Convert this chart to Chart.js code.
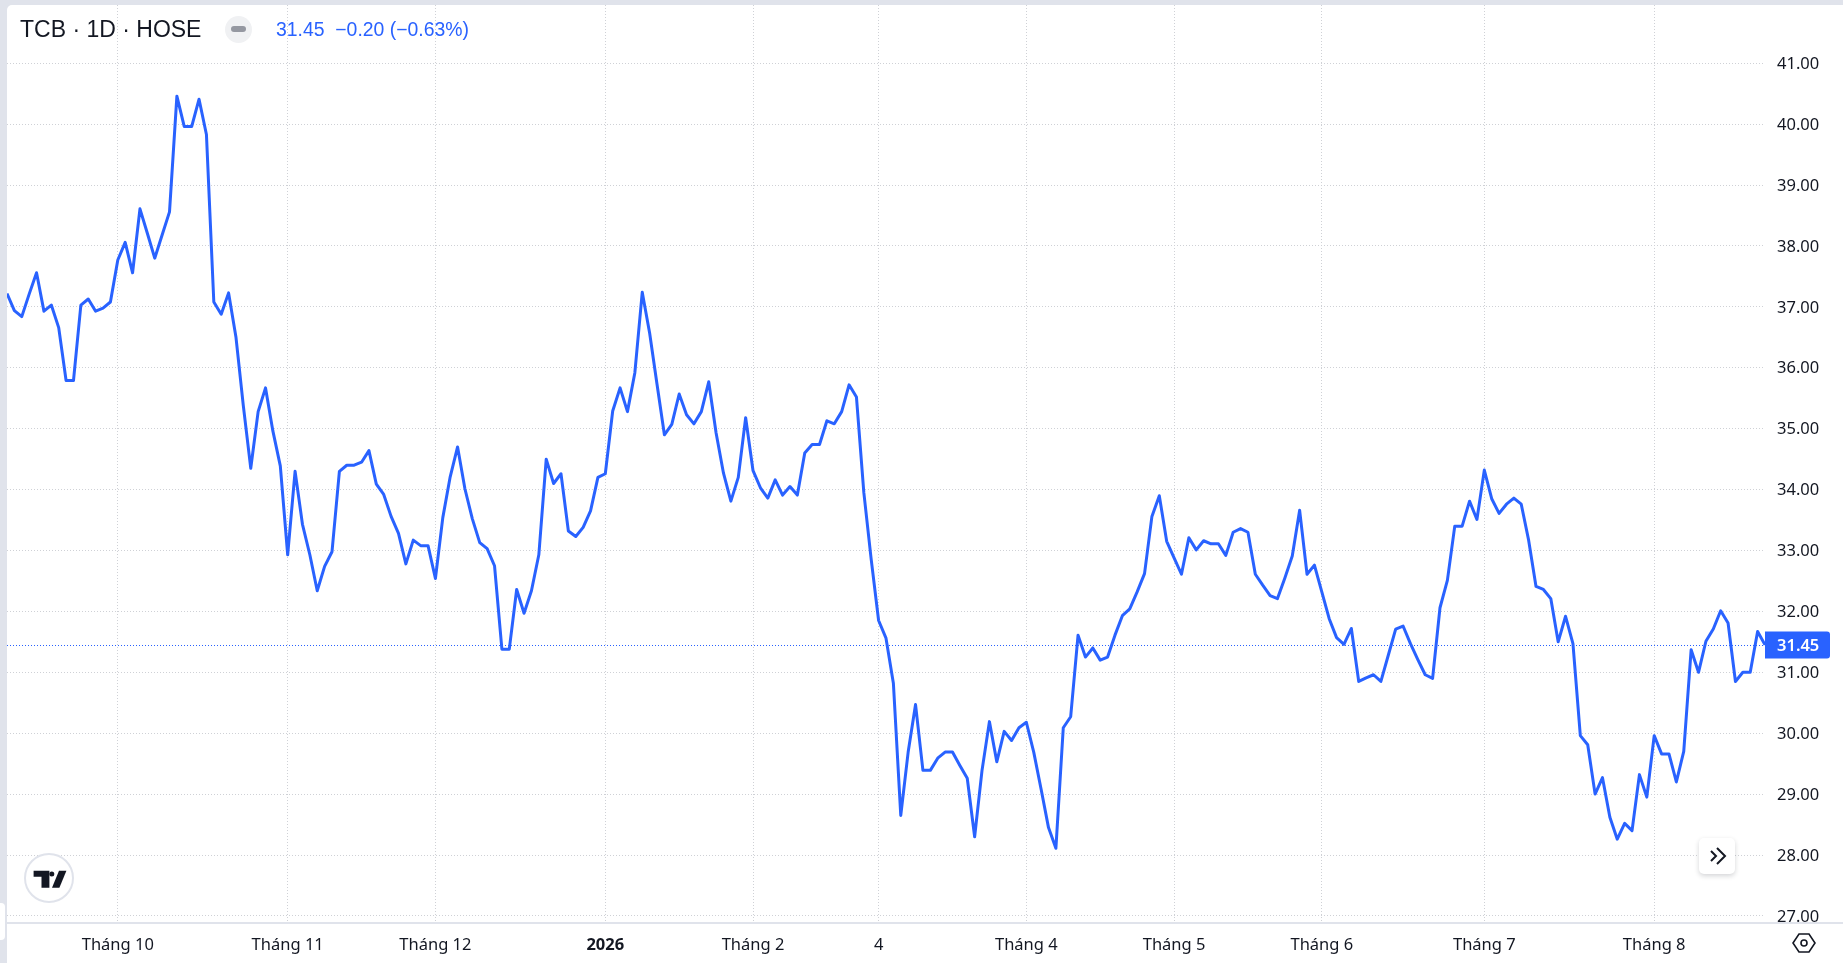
<!DOCTYPE html>
<html lang="vi">
<head>
<meta charset="utf-8">
<title>TCB · 1D · HOSE</title>
<script src="https://cdn.jsdelivr.net/npm/chart.js@4"></script>
<style>
  html, body { margin: 0; height: 100%; background: #e0e3eb; overflow: hidden; }
  #panel { position: absolute; left: 7px; top: 5px; right: 0; bottom: 0; background: #fff; border-top-left-radius: 5px; }
  #wrap { position: absolute; left: 0; top: 0; width: 1843px; height: 963px; }
  #legend { position: absolute; left: 20px; top: 15px; height: 28px; line-height: 28px; white-space: nowrap; font-family: "Liberation Sans", Arial, sans-serif; }
  #title { position: absolute; left: 0; top: 0; font-size: 23px; color: #131722; }
  #values { position: absolute; left: 256px; top: 0; font-size: 19.4px; color: #2962ff; }
  #pill { position: absolute; left: 225px; top: 16px; width: 27px; height: 27px; border-radius: 50%; background: #f0f1f3; }
  #pill i { position: absolute; left: 6px; top: 10px; width: 15px; height: 6px; border-radius: 3px; background: #9598a1; }
  #logo { position: absolute; left: 24px; top: 853px; width: 50px; height: 50px; box-sizing: border-box; border: 2px solid #e0e3eb; border-radius: 50%; background: #fff; }
  #scroll { position: absolute; left: 1699px; top: 838px; width: 36px; height: 36px; border-radius: 5px; background: #fff; box-shadow: 0 2px 5px rgba(19,23,34,.18); }
  #gear { position: absolute; left: 1792px; top: 931px; }
  #handle { position: absolute; left: 0; top: 903px; width: 5px; height: 37px; background: #fff; border-radius: 0 4px 4px 0; }
</style>
</head>
<body>
<div id="panel"></div>
<div id="handle"></div>
<div id="wrap"><canvas id="chart" width="1843" height="963"></canvas></div>
<div id="legend">
  <span id="title">TCB · 1D · HOSE</span>
  <span id="values">31.45&nbsp; −0.20 (−0.63%)</span>
</div>
<div id="pill"><i></i></div>
<div id="logo">
  <svg width="46" height="46" viewBox="0 0 46 46">
    <path fill="#131722" d="M7.6 15.7h15.8v17h-7.9v-11H7.6z"/>
    <circle fill="#131722" cx="25.8" cy="19" r="2.5"/>
    <path fill="#131722" d="M33 15.7h7.4l-7 17H26z"/>
  </svg>
</div>
<div id="scroll">
  <svg width="36" height="36" viewBox="0 0 36 36" fill="none" stroke="#131722" stroke-width="2">
    <path d="M12 13l5 5-5 5M18 10l8 8-8 8"/>
  </svg>
</div>
<svg id="gear" width="24" height="24" viewBox="0 0 24 24" fill="none" stroke="#131722" stroke-width="1.6">
  <path d="M7 3h10l6 9-6 9H7l-6-9z"/>
  <circle cx="12" cy="12" r="3"/>
</svg>

<script>
// ── Data ─────────────────────────────────────────────────────
const prices = [
  37.22, 36.94, 36.84, 37.21, 37.56, 36.93, 37.03, 36.66, 35.79, 35.79,
  37.03, 37.13, 36.93, 36.98, 37.08, 37.77, 38.06, 37.56, 38.61, 38.21,
  37.80, 38.18, 38.56, 40.46, 39.96, 39.96, 40.41, 39.83, 37.08, 36.88,
  37.23, 36.50, 35.37, 34.35, 35.28, 35.67, 34.96, 34.39, 32.93, 34.30,
  33.43, 32.93, 32.34, 32.74, 32.98, 34.30, 34.40, 34.40, 34.45, 34.64,
  34.09, 33.92, 33.56, 33.28, 32.78, 33.17, 33.08, 33.08, 32.54, 33.54,
  34.21, 34.70, 34.01, 33.52, 33.13, 33.03, 32.75, 31.38, 31.38, 32.36,
  31.97, 32.34, 32.93, 34.50, 34.10, 34.26, 33.32, 33.23, 33.38, 33.65,
  34.20, 34.26, 35.29, 35.67, 35.28, 35.92, 37.24, 36.57, 35.73, 34.90,
  35.07, 35.57, 35.23, 35.08, 35.28, 35.77, 34.93, 34.27, 33.81, 34.20,
  35.18, 34.31, 34.03, 33.86, 34.16, 33.91, 34.05, 33.91, 34.60, 34.74,
  34.74, 35.13, 35.08, 35.28, 35.72, 35.52, 33.95, 32.85, 31.85, 31.56,
  30.82, 28.65, 29.69, 30.47, 29.39, 29.39, 29.59, 29.69, 29.69, 29.47,
  29.26, 28.30, 29.39, 30.19, 29.53, 30.03, 29.88, 30.09, 30.18, 29.69,
  29.08, 28.45, 28.11, 30.09, 30.27, 31.61, 31.25, 31.40, 31.20, 31.25,
  31.61, 31.93, 32.04, 32.32, 32.62, 33.56, 33.90, 33.15, 32.88, 32.61,
  33.21, 33.01, 33.16, 33.11, 33.11, 32.92, 33.30, 33.36, 33.30, 32.61,
  32.43, 32.26, 32.21, 32.55, 32.91, 33.66, 32.61, 32.76, 32.32, 31.88,
  31.57, 31.46, 31.72, 30.85, 30.91, 30.96, 30.85, 31.28, 31.71, 31.76,
  31.47, 31.21, 30.96, 30.90, 32.06, 32.51, 33.40, 33.40, 33.81, 33.51,
  34.32, 33.85, 33.61, 33.76, 33.86, 33.76, 33.17, 32.41, 32.36, 32.21,
  31.50, 31.92, 31.47, 29.96, 29.81, 29.00, 29.27, 28.62, 28.26, 28.52,
  28.40, 29.32, 28.95, 29.96, 29.66, 29.66, 29.20, 29.70, 31.37, 31.00,
  31.51, 31.71, 32.01, 31.81, 30.85, 31.00, 31.00, 31.67, 31.45
];
const timeTickIndex  = [15, 38, 58, 81, 101, 118, 138, 158, 178, 200, 223];
const timeTickLabels = ['Tháng 10', 'Tháng 11', 'Tháng 12', '2026', 'Tháng 2', '4', 'Tháng 4', 'Tháng 5', 'Tháng 6', 'Tháng 7', 'Tháng 8'];
const priceTicks = [27, 28, 29, 30, 31, 32, 33, 34, 35, 36, 37, 38, 39, 40, 41];
const LAST_PRICE = 31.45;

// ── Style ────────────────────────────────────────────────────
const BLUE = '#2962ff';
const TEXT = '#131722';
const GRID = '#cfd1d6';
const AXIS_FONT = '"Noto Sans", sans-serif';

// ── Last price line, price tag and time axis rule ────────────
const lastPricePlugin = {
  id: 'lastPrice',
  afterDatasetsDraw(chart) {
    const { ctx, chartArea, scales } = chart;
    const y = Math.round(scales.y.getPixelForValue(LAST_PRICE)) + 0.5;
    ctx.save();
    ctx.strokeStyle = BLUE;
    ctx.lineWidth = 1;
    ctx.setLineDash([1, 2]);
    ctx.beginPath();
    ctx.moveTo(chartArea.left, y);
    ctx.lineTo(chartArea.right, y);
    ctx.stroke();
    ctx.setLineDash([]);

    ctx.strokeStyle = '#e0e3eb';
    ctx.lineWidth = 2;
    ctx.beginPath();
    ctx.moveTo(chartArea.left, chartArea.bottom + 1);
    ctx.lineTo(chart.width, chartArea.bottom + 1);
    ctx.stroke();

    ctx.fillStyle = BLUE;
    ctx.beginPath();
    ctx.roundRect(chartArea.right, y - 14, 65, 27, [0, 3, 3, 0]);
    ctx.fill();
    ctx.fillStyle = '#fff';
    ctx.font = '600 16.5px ' + AXIS_FONT;
    ctx.textAlign = 'left';
    ctx.textBaseline = 'middle';
    ctx.fillText(LAST_PRICE.toFixed(2), chartArea.right + 12, y + 1);
    ctx.restore();
  }
};

// keep the plot area on fixed edges, whatever the labels measure
function fixAxisBox(scale, size) {
  if (scale.isHorizontal()) scale.height = size;
  else scale.width = size;
  scale.paddingTop = scale.paddingBottom = scale.paddingLeft = scale.paddingRight = 0;
}

// ── Chart ────────────────────────────────────────────────────
new Chart(document.getElementById('chart'), {
  type: 'line',
  data: {
    datasets: [{
      data: prices.map((y, x) => ({ x, y })),
      borderColor: BLUE,
      borderWidth: 3,
      borderJoinStyle: 'round',
      pointRadius: 0,
      tension: 0
    }]
  },
  options: {
    responsive: false,
    animation: false,
    layout: { padding: { left: 7, top: 5, right: 0, bottom: 0 } },
    plugins: { legend: { display: false }, tooltip: { enabled: false } },
    scales: {
      x: {
        type: 'linear',
        min: 0,
        max: prices.length - 1,
        afterBuildTicks(scale) { scale.ticks = timeTickIndex.map(value => ({ value })); },
        afterFit(scale) { fixAxisBox(scale, 41); },
        grid: { color: GRID, lineWidth: 1, drawTicks: false },
        border: { display: false, dash: [1, 2] },
        ticks: {
          autoSkip: false,
          maxRotation: 0,
          padding: 13,
          color: TEXT,
          font: ctx => ({
            family: AXIS_FONT,
            size: 16.5,
            weight: ctx.tick && ctx.tick.value === timeTickIndex[3] ? '700' : '400'
          }),
          callback: value => timeTickLabels[timeTickIndex.indexOf(value)]
        }
      },
      y: {
        position: 'right',
        min: 26.9,
        max: 41.957,
        afterBuildTicks(scale) { scale.ticks = priceTicks.map(value => ({ value })); },
        afterFit(scale) { fixAxisBox(scale, 78); },
        grid: { color: GRID, lineWidth: 1, drawTicks: false },
        border: { display: false, dash: [1, 2] },
        ticks: {
          padding: 12,
          labelOffset: 1,
          color: TEXT,
          font: { family: AXIS_FONT, size: 16.5 },
          callback: value => value.toFixed(2)
        }
      }
    }
  },
  plugins: [lastPricePlugin]
});
</script>
</body>
</html>
